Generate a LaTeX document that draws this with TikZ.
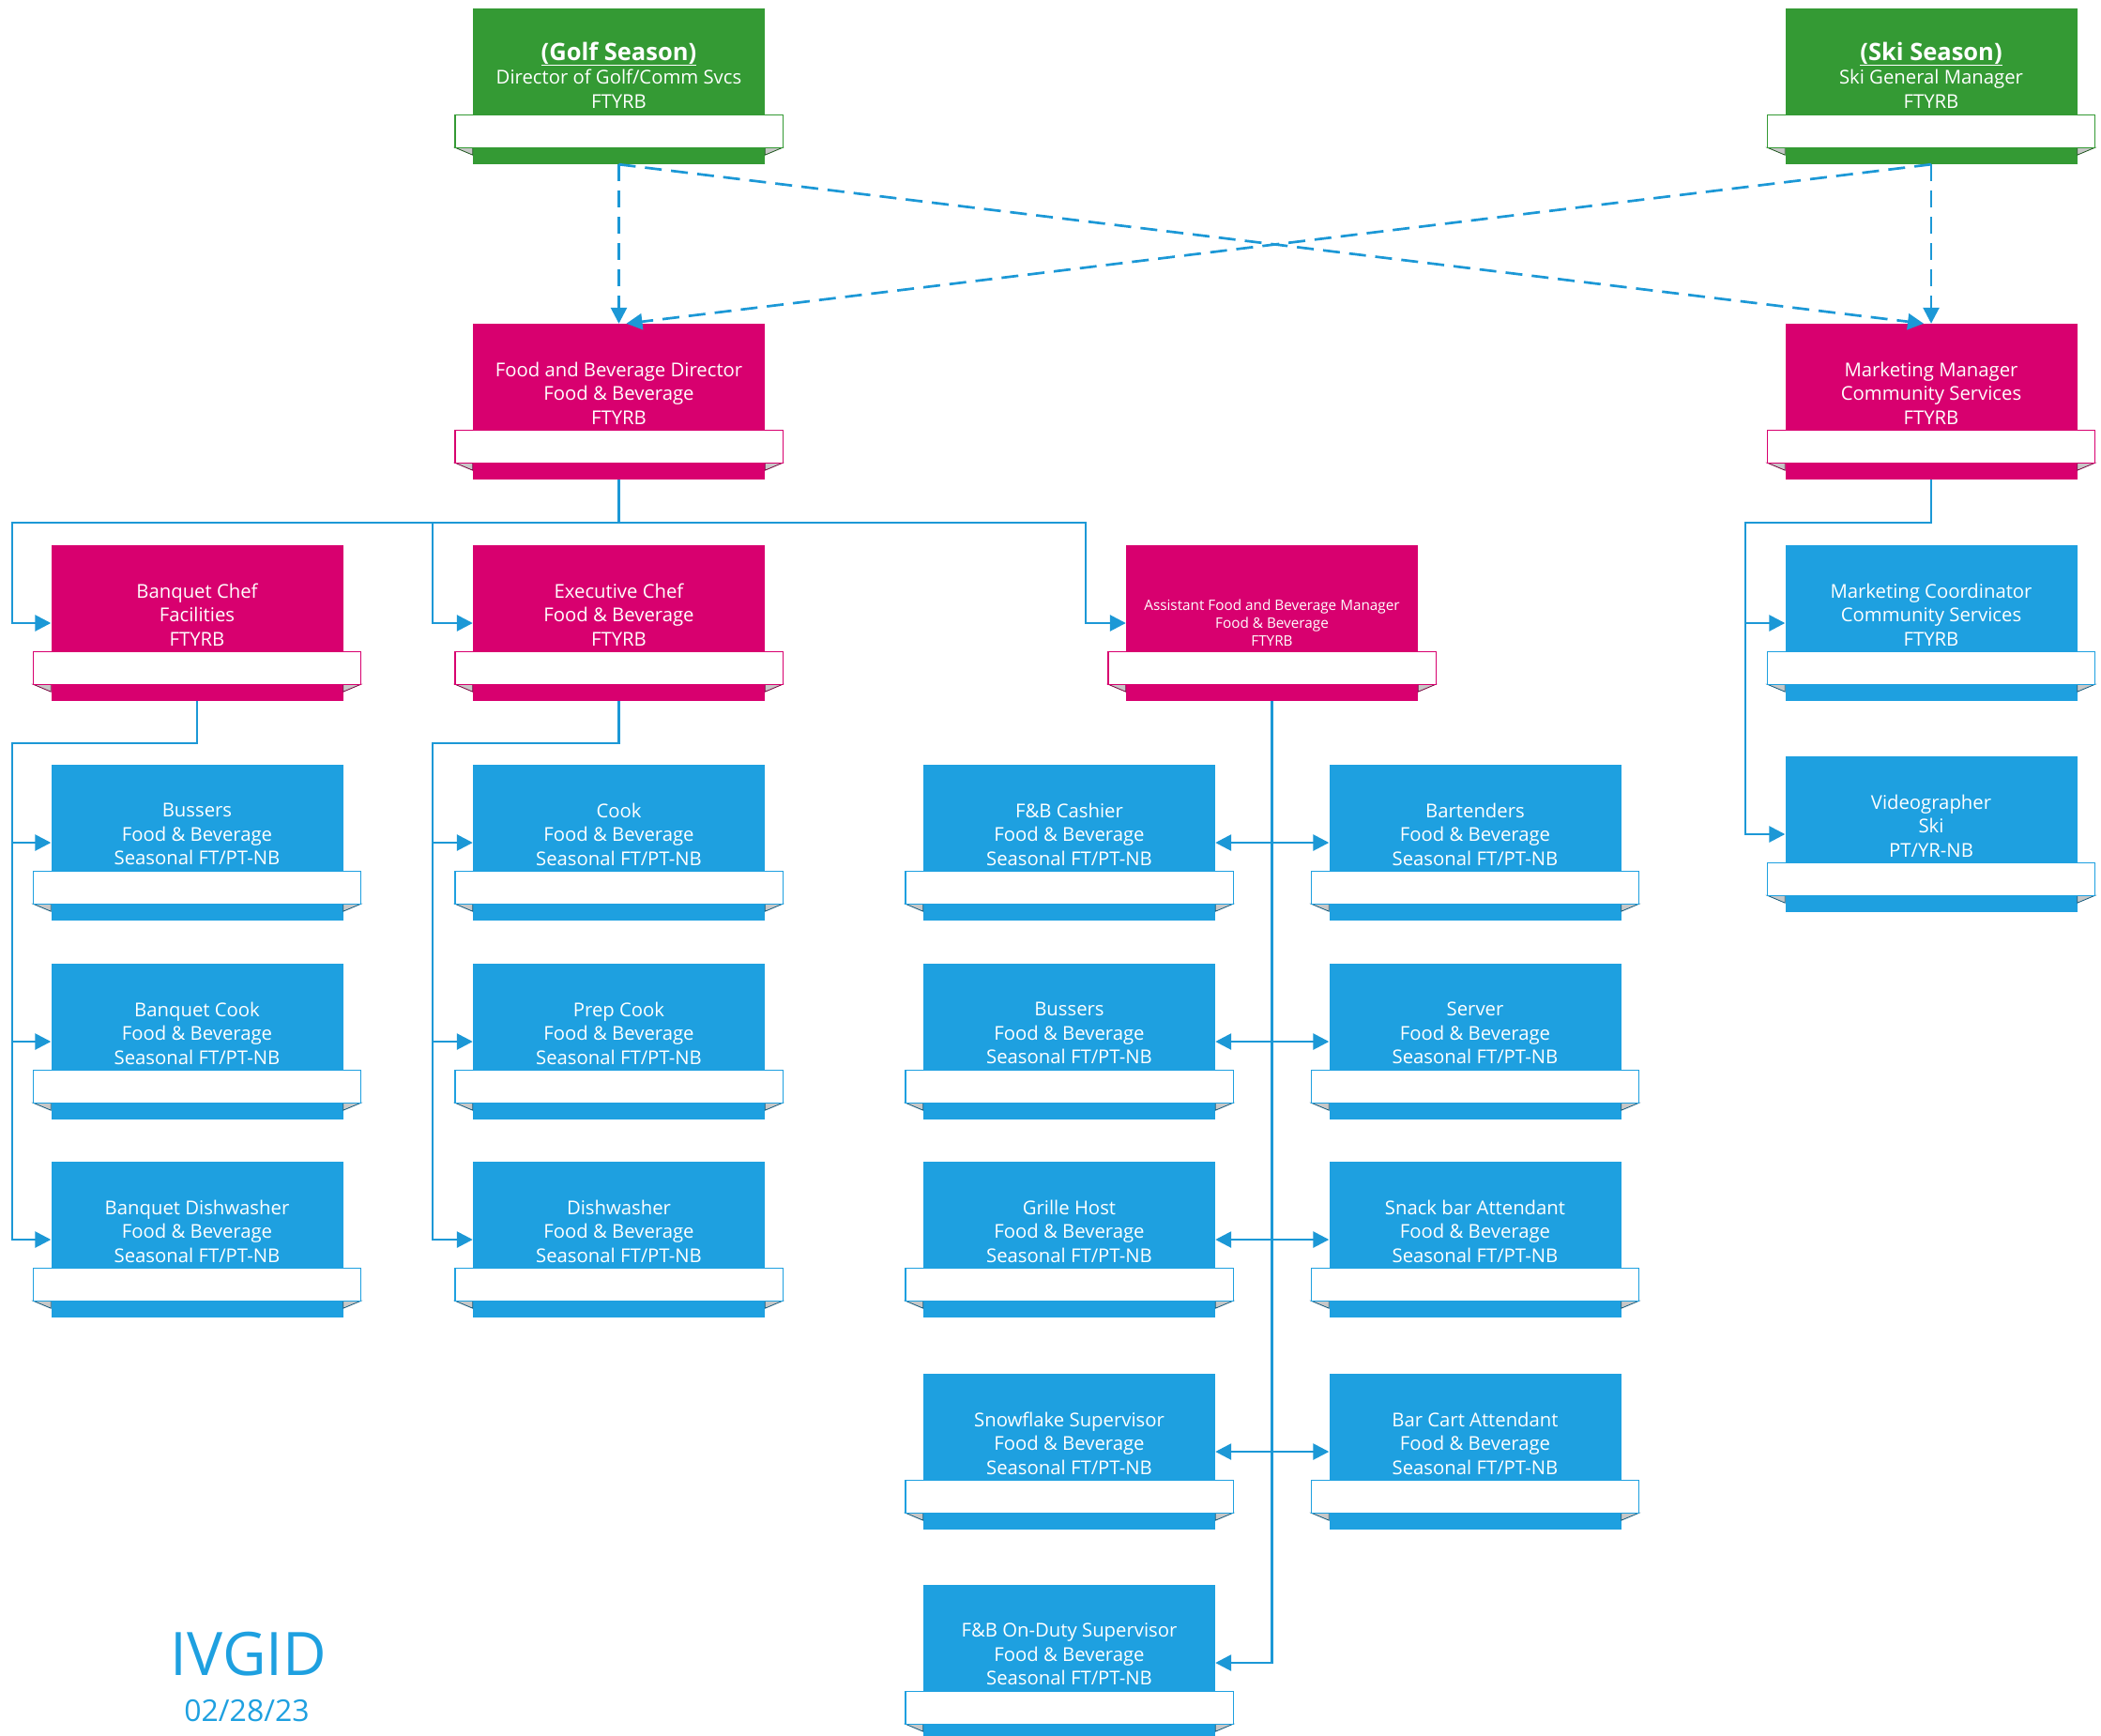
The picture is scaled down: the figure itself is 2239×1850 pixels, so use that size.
\documentclass[tikz,border=0pt]{standalone}
\usepackage{fontspec}
\setmainfont{Open Sans}
\usepackage{xcolor}
\usetikzlibrary{arrows.meta}
\definecolor{golfgreen}{RGB}{52,154,52}
\definecolor{fbmag}{RGB}{216,0,111}
\definecolor{staffblue}{RGB}{30,160,224}
\definecolor{linkblue}{RGB}{28,152,214}
% pushes the text of a box up, above its ribbon
\newcommand{\lift}[1]{\rule[-#1]{0pt}{#1}}
\newcommand{\ribbon}[2]{%
  \filldraw[fill=black!22, draw=#2!55!black, line width=0.8pt]
    ([shift={(-19pt,18pt)}]#1.south west) -- ([yshift=18pt]#1.south west) -- ([yshift=10pt]#1.south west) -- cycle;
  \filldraw[fill=black!22, draw=#2!55!black, line width=0.8pt]
    ([shift={(19pt,18pt)}]#1.south east) -- ([yshift=18pt]#1.south east) -- ([yshift=10pt]#1.south east) -- cycle;
  \filldraw[fill=white, draw=#2, line width=1.4pt]
    ([shift={(-19pt,18pt)}]#1.south west) rectangle ([shift={(19pt,53pt)}]#1.south east);
}

\begin{document}
\begin{tikzpicture}[
  x=1pt, y=-1pt,
  orgbox/.style={rectangle, minimum width=311pt, minimum height=166pt, inner sep=0pt,
    align=center, text=white, font=\fontsize{20.3}{25.5}\selectfont},
  gbox/.style={orgbox, fill=golfgreen},
  mbox/.style={orgbox, fill=fbmag},
  bbox/.style={orgbox, fill=staffblue},
  ar/.style={-{Triangle[length=17pt,width=17pt]}, line width=2.7pt, draw=linkblue},
  dar/.style={ar, dash pattern=on 18pt off 10pt},
  twoway/.style={ar, {Triangle[length=17pt,width=17pt]}-{Triangle[length=17pt,width=17pt]}}
]
  \useasboundingbox (0,0) rectangle (2239,1850);

  % seasons
  \node[gbox] (golf) at (659.5,92) {{\fontsize{25.5}{28}\selectfont\bfseries\underline{(Golf Season)}}\\Director of Golf/Comm Svcs\\FTYRB\lift{24pt}};
  \node[gbox] (ski) at (2058,92) {{\fontsize{25.5}{28}\selectfont\bfseries\underline{(Ski Season)}}\\Ski General Manager\\FTYRB\lift{24pt}};

  % managers
  \node[mbox] (fbd) at (659.5,428) {Food and Beverage Director\\Food \& Beverage\\FTYRB\lift{18pt}};
  \node[mbox] (mm) at (2058,428) {Marketing Manager\\Community Services\\FTYRB\lift{18pt}};

  \node[mbox] (bchef) at (210,664) {Banquet Chef\\Facilities\\FTYRB\lift{18pt}};
  \node[mbox] (echef) at (659.5,664) {Executive Chef\\Food \& Beverage\\FTYRB\lift{18pt}};
  \node[mbox, font=\fontsize{15.3}{19}\selectfont] (afbm) at (1355.5,664) {Assistant Food and Beverage Manager\\Food \& Beverage\\FTYRB};
  \node[bbox] (mcoord) at (2058,664) {Marketing Coordinator\\Community Services\\FTYRB\lift{18pt}};

  % staff
  \node[bbox] (bus) at (210,898) {Bussers\\Food \& Beverage\\Seasonal FT/PT-NB\lift{18pt}};
  \node[bbox] (bcook) at (210,1110) {Banquet Cook\\Food \& Beverage\\Seasonal FT/PT-NB\lift{18pt}};
  \node[bbox] (bdish) at (210,1321) {Banquet Dishwasher\\Food \& Beverage\\Seasonal FT/PT-NB\lift{18pt}};

  \node[bbox] (cook) at (659.5,898) {Cook\\Food \& Beverage\\Seasonal FT/PT-NB\lift{18pt}};
  \node[bbox] (prep) at (659.5,1110) {Prep Cook\\Food \& Beverage\\Seasonal FT/PT-NB\lift{18pt}};
  \node[bbox] (dish) at (659.5,1321) {Dishwasher\\Food \& Beverage\\Seasonal FT/PT-NB\lift{18pt}};

  \node[bbox] (cash) at (1139.5,898) {F\&B Cashier\\Food \& Beverage\\Seasonal FT/PT-NB\lift{18pt}};
  \node[bbox] (fbbus) at (1139.5,1110) {Bussers\\Food \& Beverage\\Seasonal FT/PT-NB\lift{18pt}};
  \node[bbox] (grille) at (1139.5,1321) {Grille Host\\Food \& Beverage\\Seasonal FT/PT-NB\lift{18pt}};
  \node[bbox] (snow) at (1139.5,1547) {Snowflake Supervisor\\Food \& Beverage\\Seasonal FT/PT-NB\lift{18pt}};
  \node[bbox] (onduty) at (1139.5,1772) {F\&B On-Duty Supervisor\\Food \& Beverage\\Seasonal FT/PT-NB\lift{18pt}};

  \node[bbox] (bart) at (1572,898) {Bartenders\\Food \& Beverage\\Seasonal FT/PT-NB\lift{18pt}};
  \node[bbox] (server) at (1572,1110) {Server\\Food \& Beverage\\Seasonal FT/PT-NB\lift{18pt}};
  \node[bbox] (snack) at (1572,1321) {Snack bar Attendant\\Food \& Beverage\\Seasonal FT/PT-NB\lift{18pt}};
  \node[bbox] (barcart) at (1572,1547) {Bar Cart Attendant\\Food \& Beverage\\Seasonal FT/PT-NB\lift{18pt}};

  \node[bbox] (video) at (2058,889) {Videographer\\Ski\\PT/YR-NB\lift{18pt}};

  \foreach \n/\c in {golf/golfgreen, ski/golfgreen, fbd/fbmag, mm/fbmag, bchef/fbmag, echef/fbmag,
    afbm/fbmag, mcoord/staffblue, bus/staffblue, bcook/staffblue, bdish/staffblue, cook/staffblue,
    prep/staffblue, dish/staffblue, cash/staffblue, fbbus/staffblue, grille/staffblue, snow/staffblue,
    onduty/staffblue, bart/staffblue, server/staffblue, snack/staffblue, barcart/staffblue, video/staffblue}
    {\ribbon{\n}{\c}}

  % seasonal reporting lines
  \draw[dar] (golf.south) -- (fbd.north);
  \draw[dar] (golf.south) -- ([xshift=-8pt]mm.north);
  \draw[dar] (ski.south) -- (mm.north);
  \draw[dar] (ski.south) -- ([xshift=8pt]fbd.north);

  % food and beverage
  \draw[ar] (fbd.south) |- (13,557) |- (bchef.west);
  \draw[ar] (fbd.south) |- (461,557) |- (echef.west);
  \draw[ar] (fbd.south) |- (1157,557) |- (afbm.west);

  \draw[ar] (bchef.south) |- (13,792) |- (bus.west);
  \draw[ar] (bchef.south) |- (13,792) |- (bcook.west);
  \draw[ar] (bchef.south) |- (13,792) |- (bdish.west);

  \draw[ar] (echef.south) |- (461,792) |- (cook.west);
  \draw[ar] (echef.south) |- (461,792) |- (prep.west);
  \draw[ar] (echef.south) |- (461,792) |- (dish.west);

  \draw[ar] (afbm.south) |- (onduty.east);
  \draw[twoway] (cash) -- (bart);
  \draw[twoway] (fbbus) -- (server);
  \draw[twoway] (grille) -- (snack);
  \draw[twoway] (snow) -- (barcart);

  % marketing
  \draw[ar] (mm.south) |- (1860,557) |- (mcoord.west);
  \draw[ar] (mm.south) |- (1860,557) |- (video.west);

  \node[text=staffblue, font=\fontsize{64}{64}\selectfont] (org) at (265,1763) {IVGID};
  \node[text=staffblue, font=\fontsize{32}{32}\selectfont] (date) at (263,1823) {02/28/23};
\end{tikzpicture}
\end{document}
